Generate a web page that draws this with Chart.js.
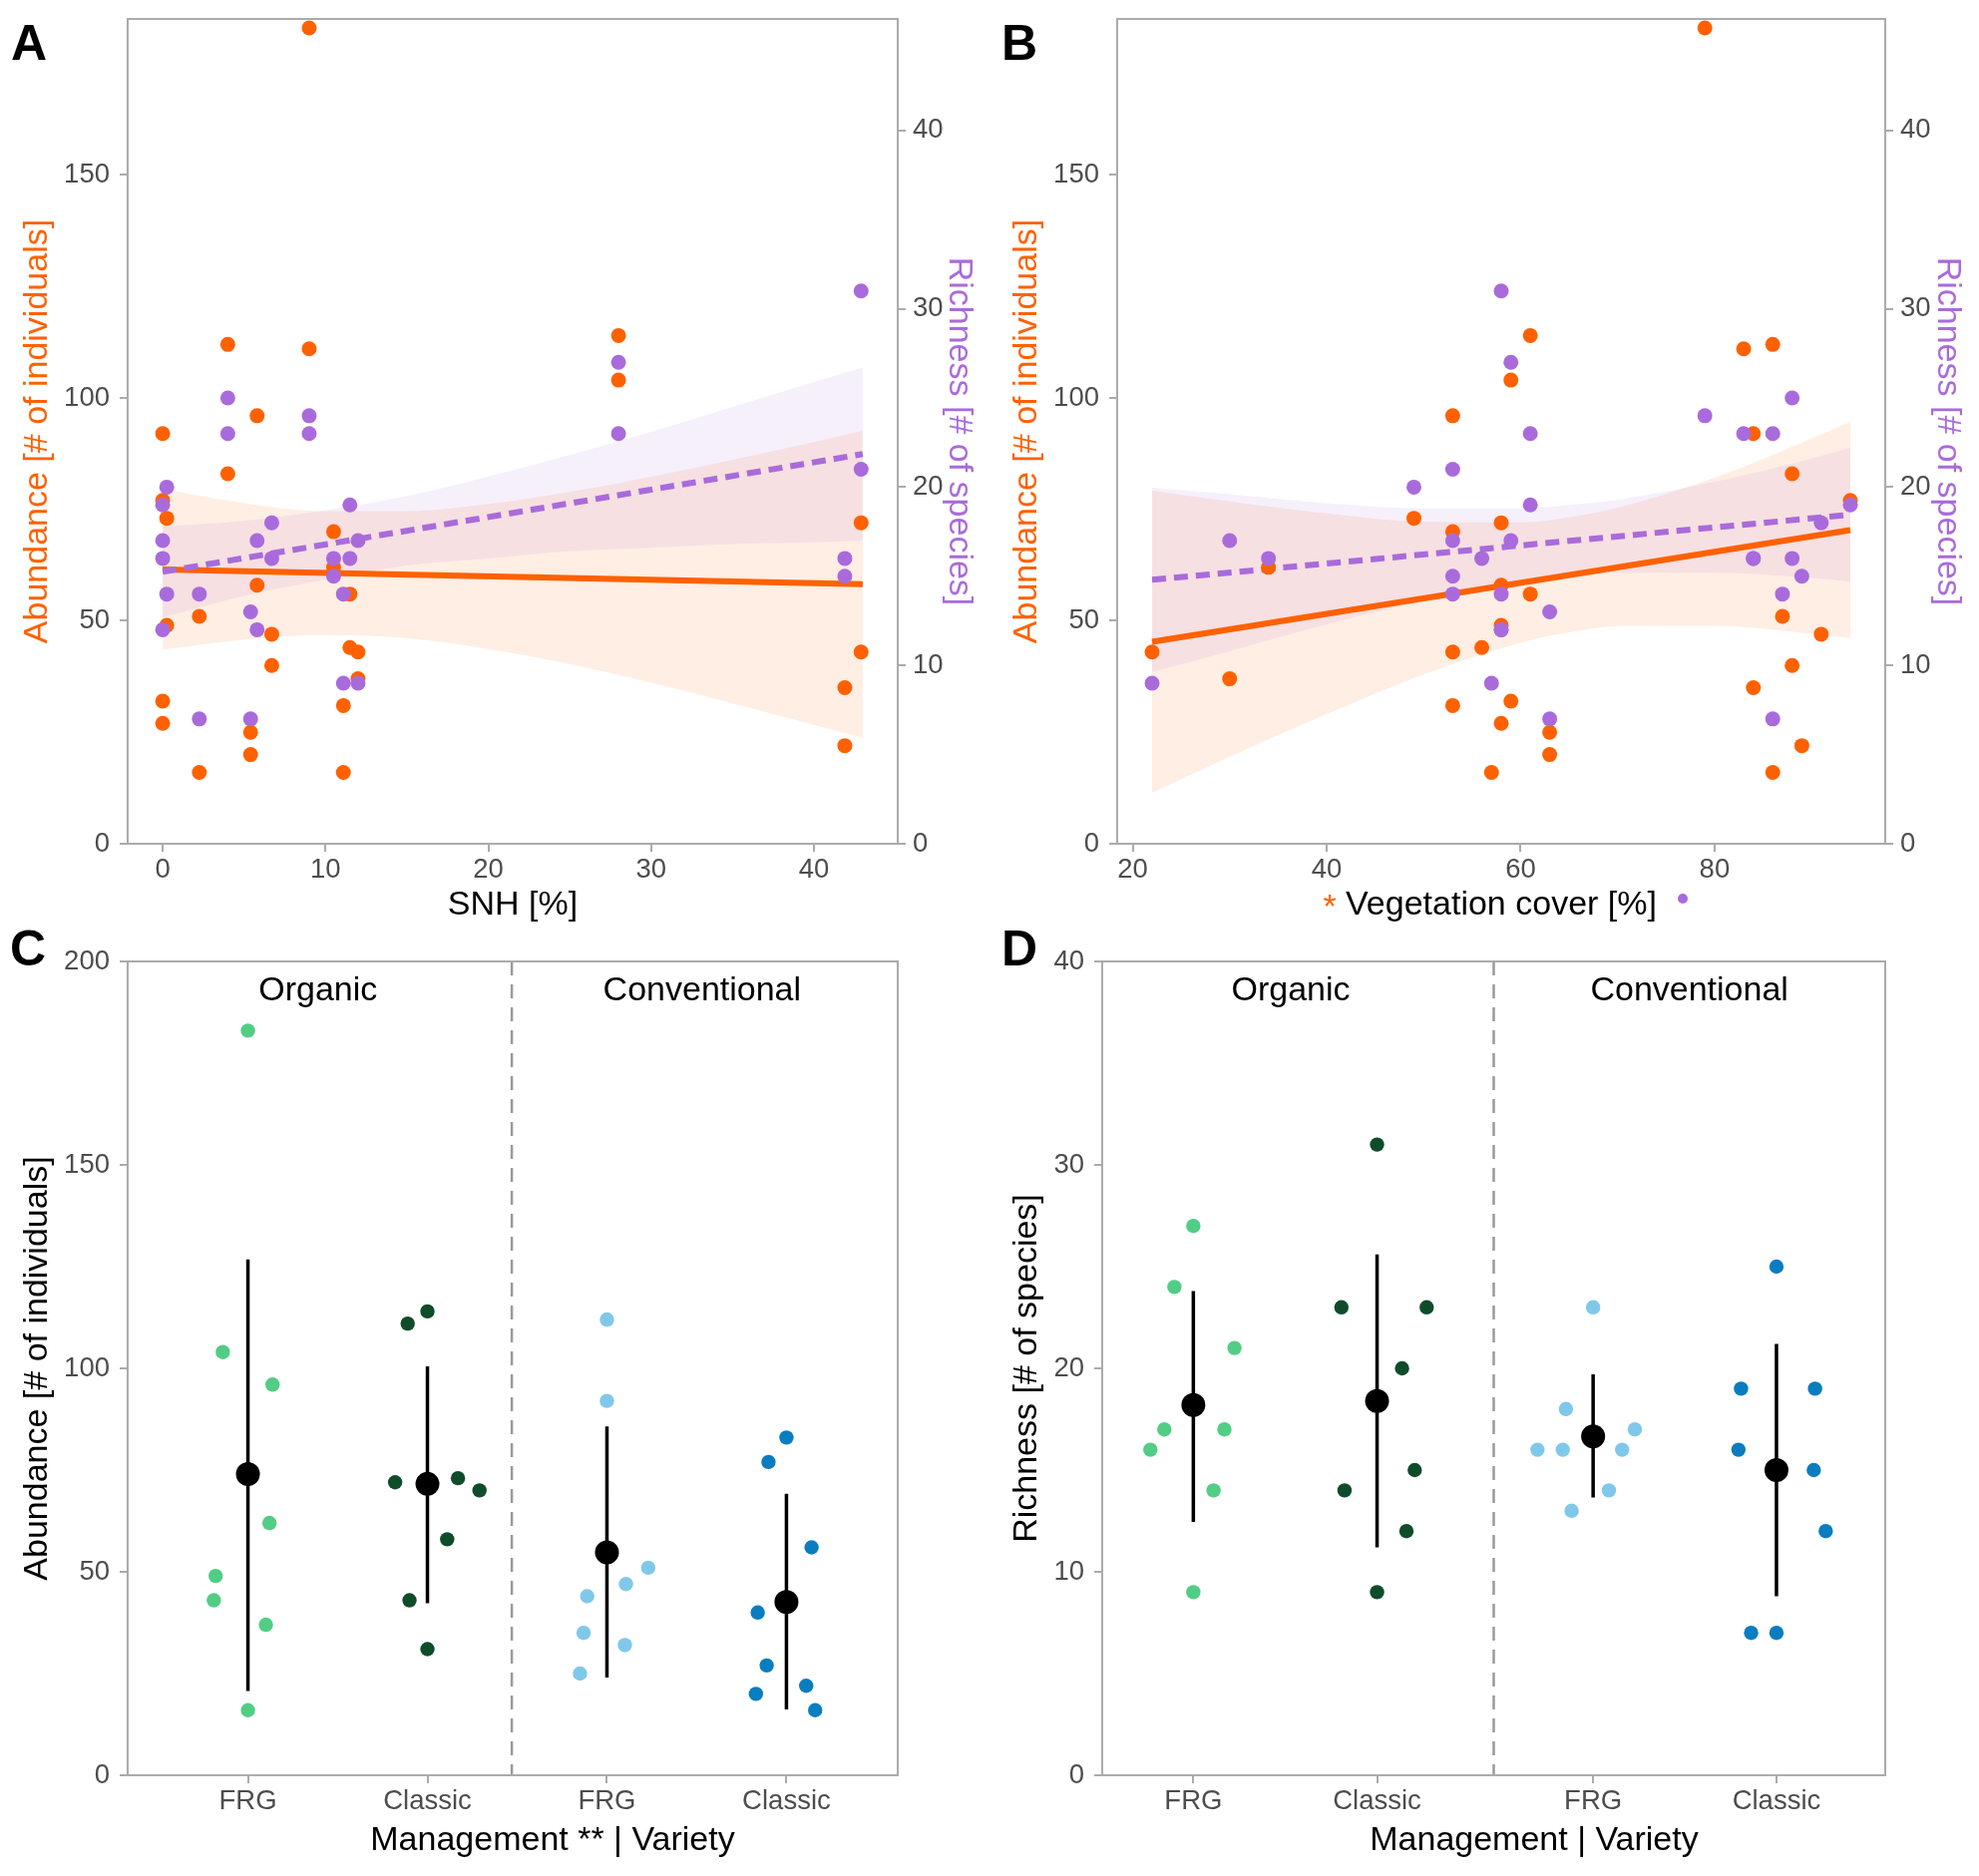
<!DOCTYPE html>
<html lang="en">
<head>
  <meta charset="UTF-8" />
  <title>Abundance and richness</title>
  <script src="https://cdn.jsdelivr.net/npm/chart.js"></script>
  <style>
    html, body { margin: 0; padding: 0; background: #fff; }
    body { font-family: "Liberation Sans", Arial, sans-serif; }
    #page { position: relative; width: 1984px; height: 1881px; overflow: hidden; }
    .box { position: absolute; }
    .letter { position: absolute; font-size: 50px; font-weight: bold; line-height: 1; color: #000; }
    .xtitle { position: absolute; width: 700px; text-align: center; font-size: 34px; line-height: 1.2; color: #000; }
  </style>
</head>
<body>
<div id="page">
  <div class="box" style="left:0;top:0;width:992px;height:930px"><canvas id="chartA"></canvas></div>
  <div class="box" style="left:992px;top:0;width:992px;height:930px"><canvas id="chartB"></canvas></div>
  <div class="box" style="left:0;top:930px;width:992px;height:951px"><canvas id="chartC"></canvas></div>
  <div class="box" style="left:992px;top:930px;width:992px;height:951px"><canvas id="chartD"></canvas></div>

  <div class="letter" style="left:11px;top:18px">A</div>
  <div class="letter" style="left:1004px;top:18px">B</div>
  <div class="letter" style="left:10px;top:926px">C</div>
  <div class="letter" style="left:1004px;top:926px">D</div>

  <!-- significance marks around the B axis title -->
  <div class="xtitle" style="left:1296px;top:888px;width:74px;color:#ff6100">*</div>
  <div style="position:absolute;left:1682px;top:896px;width:10px;height:10px;border-radius:50%;background:#a96bdb"></div>

  <div class="xtitle" style="left:204px;top:1823px">Management ** | Variety</div>
  <div class="xtitle" style="left:1188px;top:1823px">Management | Variety</div>
</div>

<script>
  // ---- A: SNH ----
  const snhAbund = [9, 0, 0, 0.25, 0.25, 0, 0, 2.25, 2.25, 4, 4, 5.8, 5.8, 5.4, 5.4, 6.7, 6.7, 9, 10.5, 10.5, 11.1, 11.1, 11.5, 11.5, 12, 12, 28, 28, 41.9, 41.9, 42.9, 42.9];
  const abundA = [183, 92, 77, 73, 49, 32, 27, 51, 16, 112, 83, 96, 58, 25, 20, 47, 40, 111, 70, 62, 31, 16, 56, 44, 43, 37, 114, 104, 35, 22, 72, 43];
  const snhRich = [0.25, 0, 0, 0, 0.25, 0, 2.25, 2.25, 4, 4, 5.4, 5.4, 5.8, 5.8, 6.7, 6.7, 9, 9, 10.5, 10.5, 11.1, 11.1, 11.5, 11.5, 12, 12, 28, 28, 41.9, 41.9, 42.9, 42.9];
  const richA = [20, 19, 17, 16, 14, 12, 14, 7, 25, 23, 13, 7, 17, 12, 18, 16, 24, 23, 16, 15, 14, 9, 19, 16, 17, 9, 27, 23, 16, 15, 31, 21];
  const fitX_A = [0, 43];
  const fitAbundA = [61.5, 58.2];
  const fitRichA = [15.25, 21.85];
  const bandX_A = [0, 5, 10, 15, 20, 25, 30, 35, 40, 43];
  const abundUpA = [79.5, 76.4, 74.6, 74.6, 76.2, 78.9, 82.3, 86.1, 90.1, 92.6];
  const abundLoA = [43.5, 45.8, 46.8, 46.1, 43.7, 40.3, 36.1, 31.5, 26.7, 23.8];
  const richUpA = [17.8, 18.1, 18.7, 19.5, 20.6, 21.8, 23.1, 24.5, 25.9, 26.7];
  const richLoA = [12.7, 13.9, 14.8, 15.6, 16.0, 16.4, 16.6, 16.8, 16.9, 17.0];

  // ---- B: vegetation cover ----
  const vegAbund = [79, 22, 30, 34, 49, 53, 53, 53, 53, 56, 57, 58, 58, 58, 58, 59, 59, 61, 61, 63, 63, 83, 84, 84, 86, 86, 88, 88, 87, 89, 91, 94];
  const abundB = [183, 43, 37, 62, 73, 96, 70, 43, 31, 44, 16, 72, 58, 49, 27, 104, 32, 114, 56, 25, 20, 111, 92, 35, 112, 16, 83, 40, 51, 22, 47, 77];
  const vegRich = [22, 30, 34, 49, 53, 53, 53, 53, 56, 57, 58, 58, 58, 58, 59, 59, 61, 61, 63, 63, 79, 83, 84, 84, 86, 86, 88, 88, 87, 89, 91, 94];
  const richB = [9, 17, 16, 20, 21, 17, 15, 14, 16, 9, 31, 14, 12, 12, 27, 17, 23, 19, 13, 7, 24, 23, 16, 16, 23, 7, 25, 16, 14, 15, 18, 19];
  const fitX_B = [22, 94];
  const fitAbundB = [45.3, 70.35];
  const fitRichB = [14.8, 18.45];
  const bandX_B = [22, 30, 40, 50, 60, 65, 70, 80, 90, 94];
  const abundUpB = [79.2, 76.8, 74.1, 72.2, 72.1, 73.2, 75.4, 82.1, 90.9, 94.6];
  const abundLoB = [11.4, 19.5, 29.1, 38.0, 45.1, 47.4, 48.8, 48.9, 47.1, 46.1];
  const richUpB = [19.97, 19.6, 19.1, 18.8, 18.8, 19.0, 19.3, 20.3, 21.6, 22.2];
  const richLoB = [9.63, 10.8, 12.3, 13.6, 14.6, 15.0, 15.2, 15.2, 14.9, 14.7];

  // ---- C / D: management | variety ----
  const varieties = ["FRG", "Classic", "FRG", "Classic"];
  const cPos = [1, 2, 3, 4];
  const cOrgFrgX = [1.0, 0.86, 1.137, 1.12, 0.82, 0.81, 1.10, 1.0];
  const cOrgFrg = [183, 104, 96, 62, 49, 43, 37, 16];
  const cOrgClaX = [1.89, 2.0, 1.82, 2.17, 2.29, 2.11, 1.90, 2.0];
  const cOrgCla = [111, 114, 72, 73, 70, 58, 43, 31];
  const cConFrgX = [3.0, 3.0, 3.23, 3.106, 2.89, 2.87, 3.10, 2.85];
  const cConFrg = [112, 92, 51, 47, 44, 35, 32, 25];
  const cConClaX = [4.0, 3.90, 4.14, 3.84, 3.89, 4.11, 3.83, 4.16];
  const cConCla = [83, 77, 56, 40, 27, 22, 20, 16];
  const cMean = [74.0, 71.6, 54.8, 42.6];
  const cLow = [20.7, 42.3, 24.0, 16.2];
  const cHigh = [126.8, 100.5, 85.7, 69.2];

  const dPos = [1, 2, 3.176, 4.174];
  const dOrgFrgX = [1.0, 0.897, 1.224, 0.842, 1.169, 0.766, 1.11, 1.0];
  const dOrgFrg = [27, 24, 21, 17, 17, 16, 14, 9];
  const dOrgClaX = [2.0, 1.806, 2.27, 2.136, 2.205, 1.823, 2.16, 2.0];
  const dOrgCla = [31, 23, 23, 20, 15, 14, 12, 9];
  const dConFrgX = [3.176, 3.028, 3.403, 2.873, 3.011, 3.334, 3.262, 3.059];
  const dConFrg = [23, 18, 17, 16, 16, 16, 14, 13];
  const dConClaX = [4.174, 3.981, 4.384, 3.967, 4.377, 4.442, 4.036, 4.174];
  const dConCla = [25, 19, 19, 16, 15, 12, 7, 7];
  const dMean = [18.2, 18.4, 16.65, 15.0];
  const dLow = [12.45, 11.2, 13.65, 8.8];
  const dHigh = [23.8, 25.6, 19.7, 21.2];

  const ticksAbund = [0, 50, 100, 150];
  const ticksRich = [0, 10, 20, 30, 40];
  const ticksSnh = [0, 10, 20, 30, 40];
  const ticksVeg = [20, 40, 60, 80];
  const ticksAbundC = [0, 50, 100, 150, 200];

  // ---- styling ----
  const ORANGE = "#ff6100";
  const PURPLE = "#a96bdb";
  const ORANGE_BAND = "rgba(255, 97, 0, 0.11)";
  const PURPLE_BAND = "rgba(168, 107, 217, 0.10)";
  const GREEN_L = "#52cd85", GREEN_D = "#0f4d2a", BLUE_L = "#80c8ea", BLUE_D = "#0a7dc0";
  const FRAME = "#ababab", TICKTXT = "#4d4d4d";
  const TICKSIZE = 27.5;

  Chart.defaults.font.family = '"Liberation Sans", Arial, sans-serif';
  Chart.defaults.animation = false;
  Chart.defaults.plugins.legend.display = false;
  Chart.defaults.plugins.tooltip.enabled = false;

  const pts = (xs, ys) => xs.map((x, i) => ({ x: x, y: ys[i] }));

  // vertical bars: low..high, broken by a null point
  const bars = (xs, lo, hi) => {
    const out = [];
    xs.forEach((x, i) => { out.push({ x: x, y: lo[i] }, { x: x, y: hi[i] }, { x: x, y: null }); });
    return out;
  };

  // frame around the panel, dashed separator and strip labels
  const panelFrame = {
    id: "panelFrame",
    beforeDatasetsDraw(chart, args, opts) {
      const { ctx, chartArea: a, scales } = chart;
      if (opts.sep != null) {
        const px = scales.x.getPixelForValue(opts.sep);
        ctx.save();
        ctx.strokeStyle = "#9a9a9a";
        ctx.lineWidth = 2.5;
        ctx.setLineDash([14, 9]);
        ctx.beginPath();
        ctx.moveTo(px, a.top);
        ctx.lineTo(px, a.bottom);
        ctx.stroke();
        ctx.restore();
      }
      (opts.strips || []).forEach(s => {
        ctx.save();
        ctx.font = '34px "Liberation Sans", Arial, sans-serif';
        ctx.fillStyle = "#000";
        ctx.textAlign = "center";
        ctx.textBaseline = "middle";
        ctx.fillText(s.text, scales.x.getPixelForValue(s.x), a.top + 30);
        ctx.restore();
      });
    },
    afterDatasetsDraw(chart) {
      const { ctx, chartArea: a } = chart;
      ctx.save();
      ctx.strokeStyle = FRAME;
      ctx.lineWidth = 2;
      ctx.strokeRect(a.left, a.top, a.right - a.left, a.bottom - a.top);
      ctx.restore();
    }
  };

  function yAxis(pos, min, max, tickVals, width, title, color, pad) {
    return {
      type: "linear", position: pos, min: min, max: max,
      afterBuildTicks: s => { s.ticks = tickVals.map(v => ({ value: v })); },
      afterFit: s => { s.width = width; s.paddingTop = 0; s.paddingBottom = 0; },
      grid: { drawOnChartArea: false, drawTicks: true, tickLength: 8, color: FRAME, lineWidth: 2 },
      border: { display: false },
      ticks: { color: TICKTXT, font: { size: TICKSIZE }, padding: pos === "left" ? 10 : 7 },
      title: { display: true, text: title, color: color, font: { size: 34 }, padding: { top: pad, bottom: 0 } }
    };
  }

  function xAxis(min, max, tickVals, height, title, labels) {
    return {
      type: "linear", position: "bottom", min: min, max: max,
      afterBuildTicks: s => { s.ticks = tickVals.map(v => ({ value: v })); },
      afterFit: s => { s.height = height; s.paddingLeft = 0; s.paddingRight = 0; },
      grid: { drawOnChartArea: false, drawTicks: true, tickLength: 8, color: FRAME, lineWidth: 2 },
      border: { display: false },
      ticks: {
        color: TICKTXT, font: { size: TICKSIZE }, padding: 2, autoSkip: false, maxRotation: 0,
        callback: labels ? (v, i) => labels[i] : (v => v)
      },
      title: { display: !!title, text: title || "", color: "#000", font: { size: 34 }, padding: { top: 0, bottom: 1.6 } }
    };
  }

  function regressionChart(id, d) {
    return new Chart(document.getElementById(id), {
      type: "scatter",
      data: {
        datasets: [
          { data: pts(d.xa, d.ya), yAxisID: "y", backgroundColor: ORANGE, pointRadius: 7.5, borderWidth: 0, order: 1 },
          { data: pts(d.xr, d.yr), yAxisID: "y2", backgroundColor: PURPLE, pointRadius: 7.5, borderWidth: 0, order: 0 },
          { type: "line", data: pts(d.fitX, d.fitA), yAxisID: "y", borderColor: ORANGE, borderWidth: 6, pointRadius: 0, order: 3 },
          { type: "line", data: pts(d.fitX, d.fitR), yAxisID: "y2", borderColor: PURPLE, borderWidth: 6, borderDash: [14, 8], pointRadius: 0, order: 2 },
          { type: "line", data: pts(d.bandX, d.aUp), yAxisID: "y", fill: "+1", backgroundColor: ORANGE_BAND, borderWidth: 0, pointRadius: 0, cubicInterpolationMode: "monotone", order: 7 },
          { type: "line", data: pts(d.bandX, d.aLo), yAxisID: "y", fill: false, borderWidth: 0, pointRadius: 0, cubicInterpolationMode: "monotone", order: 7 },
          { type: "line", data: pts(d.bandX, d.rUp), yAxisID: "y2", fill: "+1", backgroundColor: PURPLE_BAND, borderWidth: 0, pointRadius: 0, cubicInterpolationMode: "monotone", order: 6 },
          { type: "line", data: pts(d.bandX, d.rLo), yAxisID: "y2", fill: false, borderWidth: 0, pointRadius: 0, cubicInterpolationMode: "monotone", order: 6 }
        ]
      },
      options: {
        responsive: true,
        maintainAspectRatio: false,
        layout: { padding: { top: 19, right: 0, bottom: 0, left: 0 } },
        scales: {
          x: xAxis(d.xmin, d.xmax, d.xticks, 84, d.xtitle),
          y: yAxis("left", 0, 185, ticksAbund, 128, "Abundance [# of individuals]", ORANGE, 17.6),
          y2: yAxis("right", 0, 46.25, ticksRich, d.rightW, "Richness [# of species]", PURPLE, d.rightPad)
        }
      },
      plugins: [panelFrame]
    });
  }

  regressionChart("chartA", {
    xa: snhAbund, ya: abundA, xr: snhRich, yr: richA,
    fitX: fitX_A, fitA: fitAbundA, fitR: fitRichA,
    bandX: bandX_A, aUp: abundUpA, aLo: abundLoA, rUp: richUpA, rLo: richLoA,
    xmin: -2.15, xmax: 45.15, xticks: ticksSnh, xtitle: "SNH [%]", rightW: 92, rightPad: 10.6
  });

  regressionChart("chartB", {
    xa: vegAbund, ya: abundB, xr: vegRich, yr: richB,
    fitX: fitX_B, fitA: fitAbundB, fitR: fitRichB,
    bandX: bandX_B, aUp: abundUpB, aLo: abundLoB, rUp: richUpB, rLo: richLoB,
    xmin: 18.4, xmax: 97.6, xticks: ticksVeg, xtitle: "Vegetation cover [%]", rightW: 94, rightPad: 11.6
  });

  function groupChart(id, d) {
    return new Chart(document.getElementById(id), {
      type: "scatter",
      data: {
        datasets: [
          { data: pts(d.pos, d.mean), backgroundColor: "#000", pointRadius: 12, borderWidth: 0, order: 0 },
          { type: "line", data: bars(d.pos, d.low, d.high), borderColor: "#000", borderWidth: 3.5, pointRadius: 0, order: 1 },
          { data: pts(d.g[0][0], d.g[0][1]), backgroundColor: GREEN_L, pointRadius: 7.2, borderWidth: 0, order: 2 },
          { data: pts(d.g[1][0], d.g[1][1]), backgroundColor: GREEN_D, pointRadius: 7.2, borderWidth: 0, order: 2 },
          { data: pts(d.g[2][0], d.g[2][1]), backgroundColor: BLUE_L, pointRadius: 7.2, borderWidth: 0, order: 2 },
          { data: pts(d.g[3][0], d.g[3][1]), backgroundColor: BLUE_D, pointRadius: 7.2, borderWidth: 0, order: 2 }
        ]
      },
      options: {
        responsive: true,
        maintainAspectRatio: false,
        layout: { padding: { top: 34, right: d.rightPad, bottom: 0, left: 0 } },
        scales: {
          x: xAxis(d.xmin, d.xmax, d.pos, 101, null, varieties),
          y: yAxis("left", 0, d.ymax, d.yticks, d.leftW, d.ytitle, "#000", 17.6)
        },
        plugins: { panelFrame: { sep: d.sep, strips: d.strips } }
      },
      plugins: [panelFrame]
    });
  }

  groupChart("chartC", {
    pos: cPos, mean: cMean, low: cLow, high: cHigh,
    g: [[cOrgFrgX, cOrgFrg], [cOrgClaX, cOrgCla], [cConFrgX, cConFrg], [cConClaX, cConCla]],
    xmin: 0.33, xmax: 4.62, ymax: 200, yticks: ticksAbundC, leftW: 128, rightPad: 92,
    ytitle: "Abundance [# of individuals]", sep: 2.47,
    strips: [{ x: 1.39, text: "Organic" }, { x: 3.53, text: "Conventional" }]
  });

  groupChart("chartD", {
    pos: dPos, mean: dMean, low: dLow, high: dHigh,
    g: [[dOrgFrgX, dOrgFrg], [dOrgClaX, dOrgCla], [dConFrgX, dConFrg], [dConClaX, dConCla]],
    xmin: 0.504, xmax: 4.766, ymax: 40, yticks: ticksRich, leftW: 113, rightPad: 94,
    ytitle: "Richness [# of species]", sep: 2.635,
    strips: [{ x: 1.53, text: "Organic" }, { x: 3.70, text: "Conventional" }]
  });
</script>
</body>
</html>
